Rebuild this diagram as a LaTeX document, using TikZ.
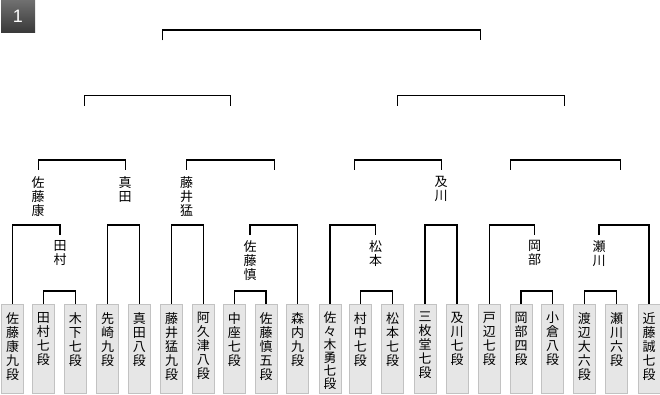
\documentclass[tikz,border=0pt]{standalone}
\usepackage{fontspec}
\newfontfamily\cjk{Noto Sans CJK JP}
\newfontfamily\badgefont{Liberation Sans}
\definecolor{boxfill}{HTML}{E6E6E6}
\definecolor{boxline}{HTML}{C2C2C2}
\definecolor{badgetop}{HTML}{707070}
\definecolor{badgebot}{HTML}{383838}
\begin{document}
\begin{tikzpicture}[x=1pt,y=-1pt,
  pbox/.style={draw=boxline, fill=boxfill, line width=1pt, minimum width=22pt, minimum height=89pt, inner sep=0pt},
  ptxt/.style={font=\cjk\fontsize{13}{14}\selectfont, align=center, inner sep=0pt, anchor=north},
  tight/.style={font=\cjk\fontsize{12.8}{13.1}\selectfont},
  bline/.style={line width=1.2pt, draw=black},
  badge/.style={minimum width=34pt, minimum height=33pt, inner sep=0pt, top color=badgetop, bottom color=badgebot, text=white, font=\badgefont\fontsize{18}{18}\selectfont}]
\useasboundingbox (0,0) rectangle (660,395);

% badge
\node[badge] (badge) at (18,16.5) {1};

% player boxes
\node[pbox] (b1)  at (12.7,348.5) {};
\node[pbox] (b2)  at (43.3,348.5) {};
\node[pbox] (b3)  at (75.3,348.5) {};
\node[pbox] (b4)  at (107.7,348.5) {};
\node[pbox] (b5)  at (139.3,348.5) {};
\node[pbox] (b6)  at (171.7,348.5) {};
\node[pbox] (b7)  at (203.3,348.5) {};
\node[pbox] (b8)  at (234.3,348.5) {};
\node[pbox] (b9)  at (266,348.5) {};
\node[pbox] (b10) at (297.7,348.5) {};
\node[pbox] (b11) at (330,348.5) {};
\node[pbox] (b12) at (360.3,348.5) {};
\node[pbox] (b13) at (392.7,348.5) {};
\node[pbox] (b14) at (425,348.5) {};
\node[pbox] (b15) at (457,348.5) {};
\node[pbox] (b16) at (489.3,348.5) {};
\node[pbox] (b17) at (521,348.5) {};
\node[pbox] (b18) at (552.7,348.5) {};
\node[pbox] (b19) at (584.3,348.5) {};
\node[pbox] (b20) at (616.7,348.5) {};
\node[pbox] (b21) at (649,348.5) {};

% player names
\node[ptxt] (t1)  at ([yshift=-8.5pt]b1.north)  {佐\\藤\\康\\九\\段};
\node[ptxt] (t2)  at ([yshift=-8.5pt]b2.north)  {田\\村\\七\\段};
\node[ptxt] (t3)  at ([yshift=-8.5pt]b3.north)  {木\\下\\七\\段};
\node[ptxt] (t4)  at ([yshift=-8.5pt]b4.north)  {先\\崎\\九\\段};
\node[ptxt] (t5)  at ([yshift=-8.5pt]b5.north)  {真\\田\\八\\段};
\node[ptxt] (t6)  at ([yshift=-8.5pt]b6.north)  {藤\\井\\猛\\九\\段};
\node[ptxt] (t7)  at ([yshift=-8.5pt]b7.north)  {阿\\久\\津\\八\\段};
\node[ptxt] (t8)  at ([yshift=-8.5pt]b8.north)  {中\\座\\七\\段};
\node[ptxt] (t9)  at ([yshift=-8.5pt]b9.north)  {佐\\藤\\慎\\五\\段};
\node[ptxt] (t10) at ([yshift=-8.5pt]b10.north) {森\\内\\九\\段};
\node[ptxt,tight] (t11) at ([yshift=-8.5pt]b11.north) {佐\\々\\木\\勇\\七\\段};
\node[ptxt] (t12) at ([yshift=-8.5pt]b12.north) {村\\中\\七\\段};
\node[ptxt] (t13) at ([yshift=-8.5pt]b13.north) {松\\本\\七\\段};
\node[ptxt] (t14) at ([yshift=-8.5pt]b14.north) {三\\枚\\堂\\七\\段};
\node[ptxt] (t15) at ([yshift=-8.5pt]b15.north) {及\\川\\七\\段};
\node[ptxt] (t16) at ([yshift=-8.5pt]b16.north) {戸\\辺\\七\\段};
\node[ptxt] (t17) at ([yshift=-8.5pt]b17.north) {岡\\部\\四\\段};
\node[ptxt] (t18) at ([yshift=-8.5pt]b18.north) {小\\倉\\八\\段};
\node[ptxt] (t19) at ([yshift=-8.5pt]b19.north) {渡\\辺\\大\\六\\段};
\node[ptxt] (t20) at ([yshift=-8.5pt]b20.north) {瀬\\川\\六\\段};
\node[ptxt] (t21) at ([yshift=-8.5pt]b21.north) {近\\藤\\誠\\七\\段};

% round-1 winner labels
\node[ptxt] (wTamura)   at (60,240)  {田\\村};
\node[ptxt] (wSatoShin) at (250,240) {佐\\藤\\慎};
\node[ptxt] (wMatsu)    at (375.5,240) {松\\本};
\node[ptxt] (wOkabe)    at (534.5,240) {岡\\部};
\node[ptxt] (wSegawa)   at (599,240) {瀬\\川};

% round-2 winner labels
\node[ptxt] (wSatoYasu) at (38.2,176) {佐\\藤\\康};
\node[ptxt] (wSanada)   at (125,176)  {真\\田};
\node[ptxt] (wFujii)    at (186.5,176) {藤\\井\\猛};
\node[ptxt] (wOikawa)   at (441,176)  {及\\川};

% tick ends and bracket heights
\coordinate (eTamura)   at (60,235);
\coordinate (eSatoShin) at (250,235);
\coordinate (eMatsu)    at (375.5,235);
\coordinate (eOkabe)    at (534.5,235);
\coordinate (eSegawa)   at (599,235);

\coordinate (k1a) at (59.3,291);
\coordinate (k1b) at (250,291);
\coordinate (k1c) at (376.5,291);
\coordinate (k1d) at (536.8,291);
\coordinate (k1e) at (600.5,291);

\coordinate (k2a) at (38.7,225);
\coordinate (k2b) at (125.5,225);
\coordinate (k2c) at (186.5,225);
\coordinate (k2d) at (274.3,225);
\coordinate (k2e) at (354.3,225);
\coordinate (k2f) at (441.3,225);
\coordinate (k2g) at (510.3,225);
\coordinate (k2h) at (620.3,225);

\coordinate (u1) at (38.7,170);
\coordinate (u2) at (125.5,170);
\coordinate (u3) at (186.5,170);
\coordinate (u4) at (274.3,170);
\coordinate (u5) at (354.3,170);
\coordinate (u6) at (441.3,170);
\coordinate (u7) at (510.3,170);
\coordinate (u8) at (620.3,170);

\coordinate (k3a) at (84.3,160);
\coordinate (k3b) at (230.7,160);
\coordinate (k3c) at (397.3,160);
\coordinate (k3d) at (564.3,160);

\coordinate (v1) at (84.3,105.7);
\coordinate (v2) at (230.7,105.7);
\coordinate (v3) at (397.3,105.7);
\coordinate (v4) at (564.3,105.7);

\coordinate (k4a) at (162.7,95.7);
\coordinate (k4b) at (480.3,95.7);

\coordinate (w1) at (162.7,40.5);
\coordinate (w2) at (480.3,40.5);
\coordinate (k5) at (321.5,30);

% round 1
\draw[bline] (b2.north) |- (k1a) -| (b3.north);
\draw[bline] (b8.north) |- (k1b) -| (b9.north);
\draw[bline] (b12.north) |- (k1c) -| (b13.north);
\draw[bline] (b17.north) |- (k1d) -| (b18.north);
\draw[bline] (b19.north) |- (k1e) -| (b20.north);

% round 2
\draw[bline] (b1.north) |- (k2a) -| (eTamura);
\draw[bline] (b4.north) |- (k2b) -| (b5.north);
\draw[bline] (b6.north) |- (k2c) -| (b7.north);
\draw[bline] (eSatoShin) |- (k2d) -| (b10.north);
\draw[bline] (b11.north) |- (k2e) -| (eMatsu);
\draw[bline] (b14.north) |- (k2f) -| (b15.north);
\draw[bline] (b16.north) |- (k2g) -| (eOkabe);
\draw[bline] (eSegawa) |- (k2h) -| (b21.north);

% round 3
\draw[bline] (u1) |- (k3a) -| (u2);
\draw[bline] (u3) |- (k3b) -| (u4);
\draw[bline] (u5) |- (k3c) -| (u6);
\draw[bline] (u7) |- (k3d) -| (u8);

% round 4
\draw[bline] (v1) |- (k4a) -| (v2);
\draw[bline] (v3) |- (k4b) -| (v4);

% final
\draw[bline] (w1) |- (k5) -| (w2);
\end{tikzpicture}
\end{document}
